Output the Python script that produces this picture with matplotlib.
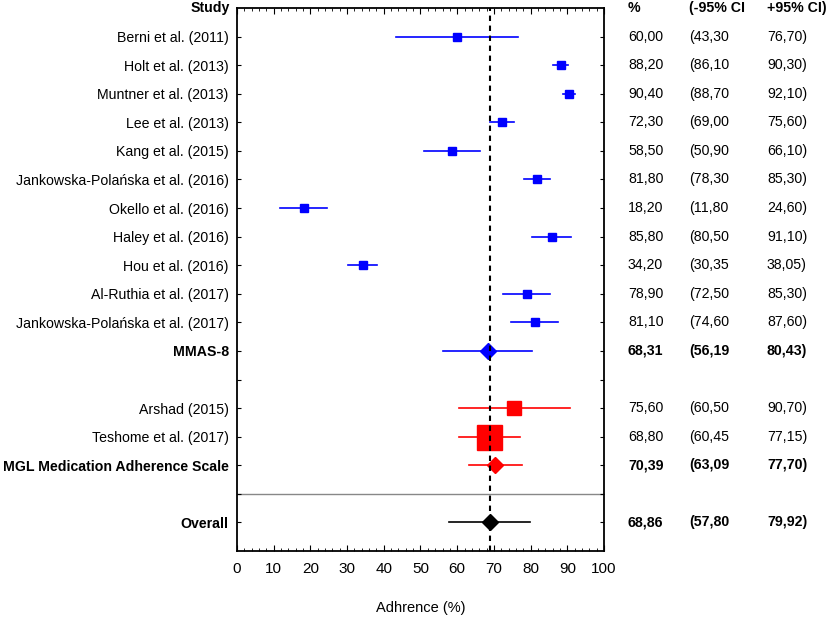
import matplotlib
matplotlib.use("Agg")
import matplotlib.pyplot as plt
from matplotlib.transforms import blended_transform_factory
from matplotlib.ticker import MultipleLocator

plt.rcParams['font.family'] = ['Liberation Sans', 'DejaVu Sans']

# ---- data ----
labels = ["Berni et al. (2011)", "Holt et al. (2013)", "Muntner et al. (2013)",
          "Lee et al. (2013)", "Kang et al. (2015)",
          "Jankowska-Polańska et al. (2016)", "Okello et al. (2016)",
          "Haley et al. (2016)", "Hou et al. (2016)", "Al-Ruthia et al. (2017)",
          "Jankowska-Polańska et al. (2017)", "MMAS-8",
          "Arshad (2015)", "Teshome et al. (2017)", "MGL Medication Adherence Scale",
          "Overall"]
estimate = [60.00, 88.20, 90.40, 72.30, 58.50, 81.80, 18.20, 85.80, 34.20, 78.90,
            81.10, 68.31, 75.60, 68.80, 70.39, 68.86]
lower = [43.30, 86.10, 88.70, 69.00, 50.90, 78.30, 11.80, 80.50, 30.35, 72.50,
         74.60, 56.19, 60.50, 60.45, 63.09, 57.80]
upper = [76.70, 90.30, 92.10, 75.60, 66.10, 85.30, 24.60, 91.10, 38.05, 85.30,
         87.60, 80.43, 90.70, 77.15, 77.70, 79.92]
is_summary = [False]*11 + [True] + [False, False, True] + [True]
group = ["MMAS"]*12 + ["MGL"]*3 + ["All"]
overall_value = 68.86
x_ticks = [0, 10, 20, 30, 40, 50, 60, 70, 80, 90, 100]
x_label = "Adhrence (%)"
col_headers = ["Study", "%", "(-95% CI", "+95% CI)"]

# ---- styles ----
row_pos = [1, 2, 3, 4, 5, 6, 7, 8, 9, 10, 11, 12, 14, 15, 16, 18]
group_color = {"MMAS": "#0000FF", "MGL": "#FF0000", "All": "#000000"}
square_size = [6.2]*11 + [None] + [10, 18, None, None]

W, H, DPI = 829, 618, 100
fig = plt.figure(figsize=(W/DPI, H/DPI), dpi=DPI)
ax = fig.add_axes([237/W, 67/H, 367/W, 543/H])

FS = 10.2

def fmt(v):
    return f"{v:.2f}".replace('.', ',')

for i in range(len(labels)):
    y = row_pos[i]
    c = group_color[group[i]]
    ax.plot([lower[i], upper[i]], [y, y], color=c, lw=1.2, zorder=2)
    if is_summary[i]:
        ax.plot(estimate[i], y, marker='D', ms=8.3, color=c, mec=c, zorder=3)
    else:
        ax.plot(estimate[i], y, marker='s', ms=square_size[i], color=c, mec=c, zorder=3)

ax.axvline(overall_value, color='black', ls=(0, (2.6, 2.2)), lw=1.5, zorder=4)
ax.axhline(17, color='#888888', lw=1.0, zorder=1)

ax.set_xlim(0, 100)
ax.set_ylim(19, 0)
ax.set_xticks(x_ticks)
ax.xaxis.set_minor_locator(MultipleLocator(2))
ax.tick_params(axis='x', which='both', direction='in', top=True, bottom=True,
               labelsize=11, pad=8)
ax.tick_params(axis='x', which='major', length=4)
ax.tick_params(axis='x', which='minor', length=2)

yt = list(range(1, 19))
ax.set_yticks(yt)
lab_map = {row_pos[i]: labels[i] for i in range(len(labels))}
ax.set_yticklabels([lab_map.get(y, "") for y in yt])
for t, y in zip(ax.get_yticklabels(), yt):
    if y in lab_map and is_summary[labels.index(lab_map[y])]:
        t.set_fontweight('bold')
ax.tick_params(axis='y', direction='in', left=True, right=True, length=3,
               labelsize=FS, pad=6)
for s in ax.spines.values():
    s.set_linewidth(1.3)

# x label
fig.text(421/W, 1 - 608/H, x_label, ha='center', va='center', fontsize=10.5)

# header "Study"
tr = blended_transform_factory(fig.transFigure, ax.transData)
fig.text(230/W, 0, col_headers[0], transform=tr, ha='right', va='center',
         fontsize=FS, fontweight='bold')
col_x = [628/W, 689/W, 767/W]
for j, h in enumerate(col_headers[1:]):
    fig.text(col_x[j], 0, h, transform=tr, ha='left', va='center',
             fontsize=FS, fontweight='bold')

for i in range(len(labels)):
    y = row_pos[i]
    w = 'bold' if is_summary[i] else 'normal'
    vals = [fmt(estimate[i]), "(" + fmt(lower[i]), fmt(upper[i]) + ")"]
    for j, v in enumerate(vals):
        fig.text(col_x[j], y, v, transform=tr, ha='left', va='center',
                 fontsize=FS, fontweight=w)

fig.savefig("out.png", dpi=DPI)
